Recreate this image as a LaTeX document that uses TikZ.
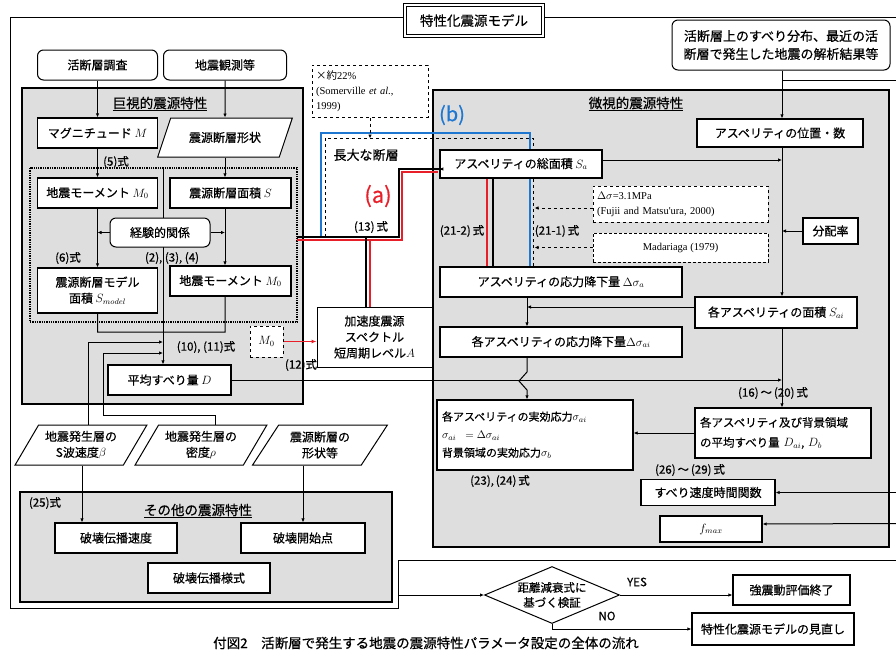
\documentclass[tikz,border=0pt]{standalone}
\usepackage{fontspec}
\setmainfont{Noto Sans CJK JP}[FakeBold=0.5]
\newfontfamily\serif{Liberation Serif}
\newfontfamily\jpf{Noto Sans CJK JP}
\usetikzlibrary{shapes.geometric,arrows.meta,calc}
\definecolor{panelgray}{RGB}{222,222,222}
\definecolor{redA}{RGB}{232,30,40}
\definecolor{blueB}{RGB}{30,120,210}
\begin{document}
\begin{tikzpicture}[x=1pt,y=-1pt,
  every node/.style={inner sep=1pt},
  lbl/.style={font=\fontsize{11.5}{13}\selectfont},
  box/.style={draw, line width=1.3pt, fill=white, align=center, font=\fontsize{12}{16}\selectfont},
  rbox/.style={box, rounded corners=6pt, line width=1pt},
  dbox/.style={draw, line width=1pt, dashed, fill=white, align=left, font=\serif\fontsize{10.5}{15}\selectfont},
  para/.style={box, trapezium, trapezium left angle=56, trapezium right angle=124, trapezium stretches=true, line width=1pt},
  panel/.style={draw, line width=1.4pt, fill=panelgray},
  conn/.style={line width=1pt, -{Latex[length=4pt,width=3.5pt]}},
  plain/.style={line width=1pt},
  redl/.style={line width=1.5pt, draw=redA},
  bluel/.style={line width=1.5pt, draw=blueB},
  dlead/.style={line width=0.8pt, dashed, -{Latex[length=4pt,width=3.5pt]}},
  ptitle/.style={font=\fontsize{13.5}{15}\selectfont},
]
\useasboundingbox[fill=white] (0,0) rectangle (896,657);

% outer frame
\draw[line width=0.8pt] (405,17) -- (10,17) -- (10,608) -- (398,608) -- (398,560) -- (896,560);
\draw[line width=0.8pt] (543,17) -- (896,17);

% panels
\draw[panel] (22,88) rectangle (303,404);
\draw[panel] (433,90) rectangle (889,547);
\draw[panel] (20,492) rectangle (392,602);
\draw[line width=1.3pt, densely dotted] (30,168) rectangle (297,322);

\node[ptitle] (tmacro) at (160,104) {\underline{巨視的震源特性}};
\node[ptitle] (tmicro) at (636,104) {\underline{微視的震源特性}};
\node[ptitle] (tother) at (198,511) {\underline{その他の震源特性}};

% lines drawn beneath nodes
\draw[plain] (163,168) -- (163,332);
\draw[bluel] (321,237) -- (321,133) -- (530,133) -- (530,267);
\draw[line width=1pt, dashed] (325,237) -- (325,138) -- (533,138) -- (533,267);
\draw[line width=1.2pt] (297,237) -- (399,237) -- (399,169) -- (440,169);
\draw[redl] (297,240) -- (402,240) -- (402,172) -- (438,172);
\draw[line width=1.2pt] (366,238) -- (366,307);
\draw[redl] (370,240) -- (370,307);

% title
\node[draw, double, double distance=2pt, line width=0.8pt, fill=white, minimum width=138, minimum height=31, font=\fontsize{13.5}{15}\selectfont] (title) at (474,20.5) {特性化震源モデル};

% top boxes
\node[rbox, minimum width=120, minimum height=30] (katsu) at (97.5,65) {活断層調査};
\node[rbox, minimum width=123, minimum height=30] (kansoku) at (225,65) {地震観測等};
\node[rbox, minimum width=218, minimum height=50, font=\fontsize{13}{18}\selectfont] (topright) at (781,45) {活断層上のすべり分布、最近の活\\断層で発生した地震の解析結果等};

% macro panel
\node[box, minimum width=120, minimum height=30] (mag) at (97.5,133) {マグニチュード $M$};
\node[para, minimum width=136, minimum height=39] (shape1) at (225,137.5) {震源断層形状};
\node[box, minimum width=120, minimum height=30] (m0a) at (97.5,193) {地震モーメント $M_0$};
\node[box, minimum width=121, minimum height=30] (area) at (230.5,193) {震源断層面積 $S$};
\node[rbox, minimum width=100, minimum height=29, fill=white] (keiken) at (160,232.5) {経験的関係};
\node[box, minimum width=120, minimum height=45] (smodel) at (97.5,290.5) {震源断層モデル\\面積 $S_{model}$};
\node[box, minimum width=121, minimum height=30] (m0b) at (230.5,281) {地震モーメント $M_0$};
\node[box, dashed, line width=1pt, minimum width=33, minimum height=31] (m0c) at (266.5,341.5) {$M_0$};
\node[box, minimum width=123, minimum height=30] (dbar) at (169.5,380) {平均すべり量 $D$};

\node[lbl] (eq5) at (116,162) {(5)式};
\node[lbl] (eq6) at (68,258) {(6)式};
\node[lbl] (eq234) at (172,258) {(2), (3), (4)};
\node[lbl] (eq1011) at (206,347) {(10), (11)式};
\node[lbl] (eq12) at (301,365) {(12)式};

% parameters
\node[para, minimum width=132, minimum height=40] (beta) at (81,445) {地震発生層の\\S波速度$\beta$};
\node[para, minimum width=132, minimum height=40] (rho) at (201,445) {地震発生層の\\密度$\rho$};
\node[para, minimum width=135, minimum height=40] (keijo) at (320,445) {震源断層の\\形状等};

% other panel
\node[lbl] (eq25) at (45,503) {(25)式};
\node[box, minimum width=122, minimum height=30] (hakaiv) at (116,538) {破壊伝播速度};
\node[box, minimum width=124, minimum height=30] (hakais) at (303,538) {破壊開始点};
\node[box, minimum width=122, minimum height=30] (hakaiy) at (209,578) {破壊伝播様式};

% centre
\node[dbox, minimum width=116, minimum height=52, text width=108] (somer) at (370,91) {{\jpf ×約}22\%\\(Somerville \textit{et al.},\\1999)};
\node[font=\fontsize{13}{15}\selectfont] (chodai) at (366,155) {長大な断層};
\node[text=redA, font=\fontsize{22}{24}\selectfont] (la) at (378,196) {(a)};
\node[text=blueB, font=\fontsize{20}{22}\selectfont] (lb) at (452,115) {(b)};
\node[lbl] (eq13) at (371,227) {(13)\,式};
\node[box, line width=1pt, minimum width=115, minimum height=60] (accel) at (374.5,337) {加速度震源\\スペクトル\\短周期レベル$A$};

% micro panel
\node[box, minimum width=162, minimum height=28] (sa) at (521,164) {アスペリティの総面積 $S_a$};
\node[dbox, minimum width=175, minimum height=36, text width=167] (fujii) at (680.5,204) {$\Delta\sigma$=3.1MPa\\(Fujii and Matsu'ura, 2000)};
\node[dbox, densely dashed, minimum width=175, minimum height=29, align=center] (madar) at (680.5,247.5) {Madariaga (1979)};
\node[lbl] (eq212) at (462,231) {(21-2)\,式};
\node[lbl] (eq211) at (557,231) {(21-1)\,式};
\node[box, minimum width=166, minimum height=28] (ichi) at (780,133) {アスペリティの位置・数};
\node[box, minimum width=55, minimum height=26] (bunpai) at (830.5,231) {分配率};
\node[box, minimum width=242, minimum height=30] (dsa) at (561,282) {アスペリティの応力降下量 $\Delta\sigma_a$};
\node[box, minimum width=162, minimum height=31] (sai) at (776,312.5) {各アスペリティの面積 $S_{ai}$};
\node[box, minimum width=242, minimum height=30] (dsai) at (561,342) {各アスペリティの応力降下量$\Delta\sigma_{ai}$};
\node[lbl] (eq1620) at (773,393) {(16)\,～\,(20)\,式};
\node[box, minimum width=196, minimum height=70, text width=186, align=left, font=\fontsize{11}{18}\selectfont] (jikko) at (535,435) {各アスペリティの実効応力$\sigma_{ai}$\\$\sigma_{ai}\;\;=\Delta\sigma_{ai}$\\背景領域の実効応力$\sigma_b$};
\node[lbl] (eq2324) at (500,481) {(23),\,(24)\,式};
\node[box, minimum width=176, minimum height=50, text width=166, align=left, font=\fontsize{11.5}{20}\selectfont] (dai) at (783,433) {各アスペリティ及び背景領域\\の平均すべり量 $D_{ai}$, $D_b$};
\node[lbl] (eq2629) at (690,470) {(26)\,～\,(29)\,式};
\node[box, minimum width=134, minimum height=26] (slip) at (708,492.5) {すべり速度時間関数};
\node[box, minimum width=102, minimum height=26] (fmax) at (711,529) {$f_{max}$};

% bottom
\node[draw, line width=1pt, fill=white, shape=diamond, aspect=2.4, inner sep=0pt, minimum width=135, minimum height=57, align=center, font=\fontsize{11.5}{15}\selectfont] (diam) at (552,595) {距離減衰式に\\基づく検証};
\node[box, minimum width=117, minimum height=30] (kyoshin) at (791.5,590) {強震動評価終了};
\node[box, minimum width=162, minimum height=32] (minaoshi) at (773,629) {特性化震源モデルの見直し};
\node[lbl] (yes) at (637,582) {YES};
\node[lbl] (no) at (607,616) {NO};
\node[font=\fontsize{13.5}{16}\selectfont] (caption) at (426,643) {付図2\quad 活断層で発生する地震の震源特性パラメータ設定の全体の流れ};

% connectors: macro
\draw[conn] (katsu.south) -- (katsu.south |- mag.north);
\draw[conn] (kansoku.south) -- (shape1.north);
\draw[conn] (mag.south) -- (m0a.north);
\draw[conn] (shape1.south) -- (shape1.south |- area.north);
\draw[conn] (shape1.south |- area.south) -- (shape1.south |- m0b.north);
\draw[conn] (m0a.south) -- (smodel.north);
\draw[conn] (keiken.west) -- (keiken.west -| m0a.south);
\draw[conn] (keiken.east) -- (keiken.east -| shape1.south);
\coordinate (jl) at (97.5,332);
\coordinate (jr) at (225,332);
\coordinate (jc) at (163,332);
\draw[plain] (smodel.south) -- (jl) -- (jr) -- (shape1.south |- m0b.south);
\draw[conn] (jc) -- (jc |- dbar.north);
\coordinate (a1) at (163,342);
\coordinate (a2) at (163,353);
\coordinate (a3) at (103,415);
\coordinate (bt) at ($(beta.north)+(7,0)$);
\coordinate (rt) at ($(rho.north)+(14,0)$);
\draw[conn] (bt) |- (a1);
\draw[conn] (rt) |- (a3) |- (a2);
\coordinate (bs) at ($(beta.south)+(1,0)$);
\coordinate (ks) at ($(keijo.south)+(-17,0)$);
\draw[conn] (bs) -- (bs |- hakaiv.north);
\draw[conn] (ks) -- (ks |- hakais.north);

% centre connectors
\draw[conn, dashed] (somer.south) -- ++(0,21);
\draw[conn] (440,169) -- (sa.west |- 0,169);
\draw[redl, -{Latex[length=5pt,width=4pt]}] (m0c.east) -- (m0c.east -| accel.west);
\draw[redl] (sa.south -| 487,0) -- (dsa.north -| 487,0);
\draw[line width=1.2pt] (sa.south -| 493,0) -- (dsa.north -| 493,0);
\draw[dlead] ($(fujii.west)+(0,4)$) -- ++(-58,0);
\draw[dlead] (madar.west) -- ++(-58,0);

% micro connectors
\coordinate (vx) at (527,0);
\coordinate (rx) at (782,0);
\draw[conn] (dsa.south -| vx) -- (dsai.north -| vx);
\coordinate (sw) at ($(sai.west)+(0,-5.5)$);
\draw[conn] (sw) -- (sw -| vx);
\draw[conn] (dsai.south -| vx) -- (527,372) -- (519,381) -- (527,390) -- (jikko.north -| vx);
\draw[conn] (topright.south -| rx) -- (ichi.north -| rx);
\draw[conn] (ichi.south -| rx) -- (sai.north -| rx);
\draw[conn] (sai.south -| rx) -- (dai.north -| rx);
\coordinate (se) at ($(sa.east)+(0,-4)$);
\draw[conn] (se) -- (se -| rx);
\draw[conn] (bunpai.west) -- (bunpai.west -| rx);
\draw[conn] (dbar.east) -- (dbar.east -| rx);
\draw[plain] (782,80) -- (896,80);
\draw[conn] (896,492.5) -- (slip.east);
\coordinate (fe) at ($(fmax.east)+(0,-5)$);
\draw[conn] (896,523.5) -- (fe);
\draw[conn] (dai.west) -- (dai.west -| jikko.east);

% bottom connectors
\draw[conn] (398,595) -- (diam.west);
\draw[conn] (diam.east) -- (diam.east -| kyoshin.west);
\draw[conn] (diam.south) |- (minaoshi.west);
\end{tikzpicture}
\end{document}
